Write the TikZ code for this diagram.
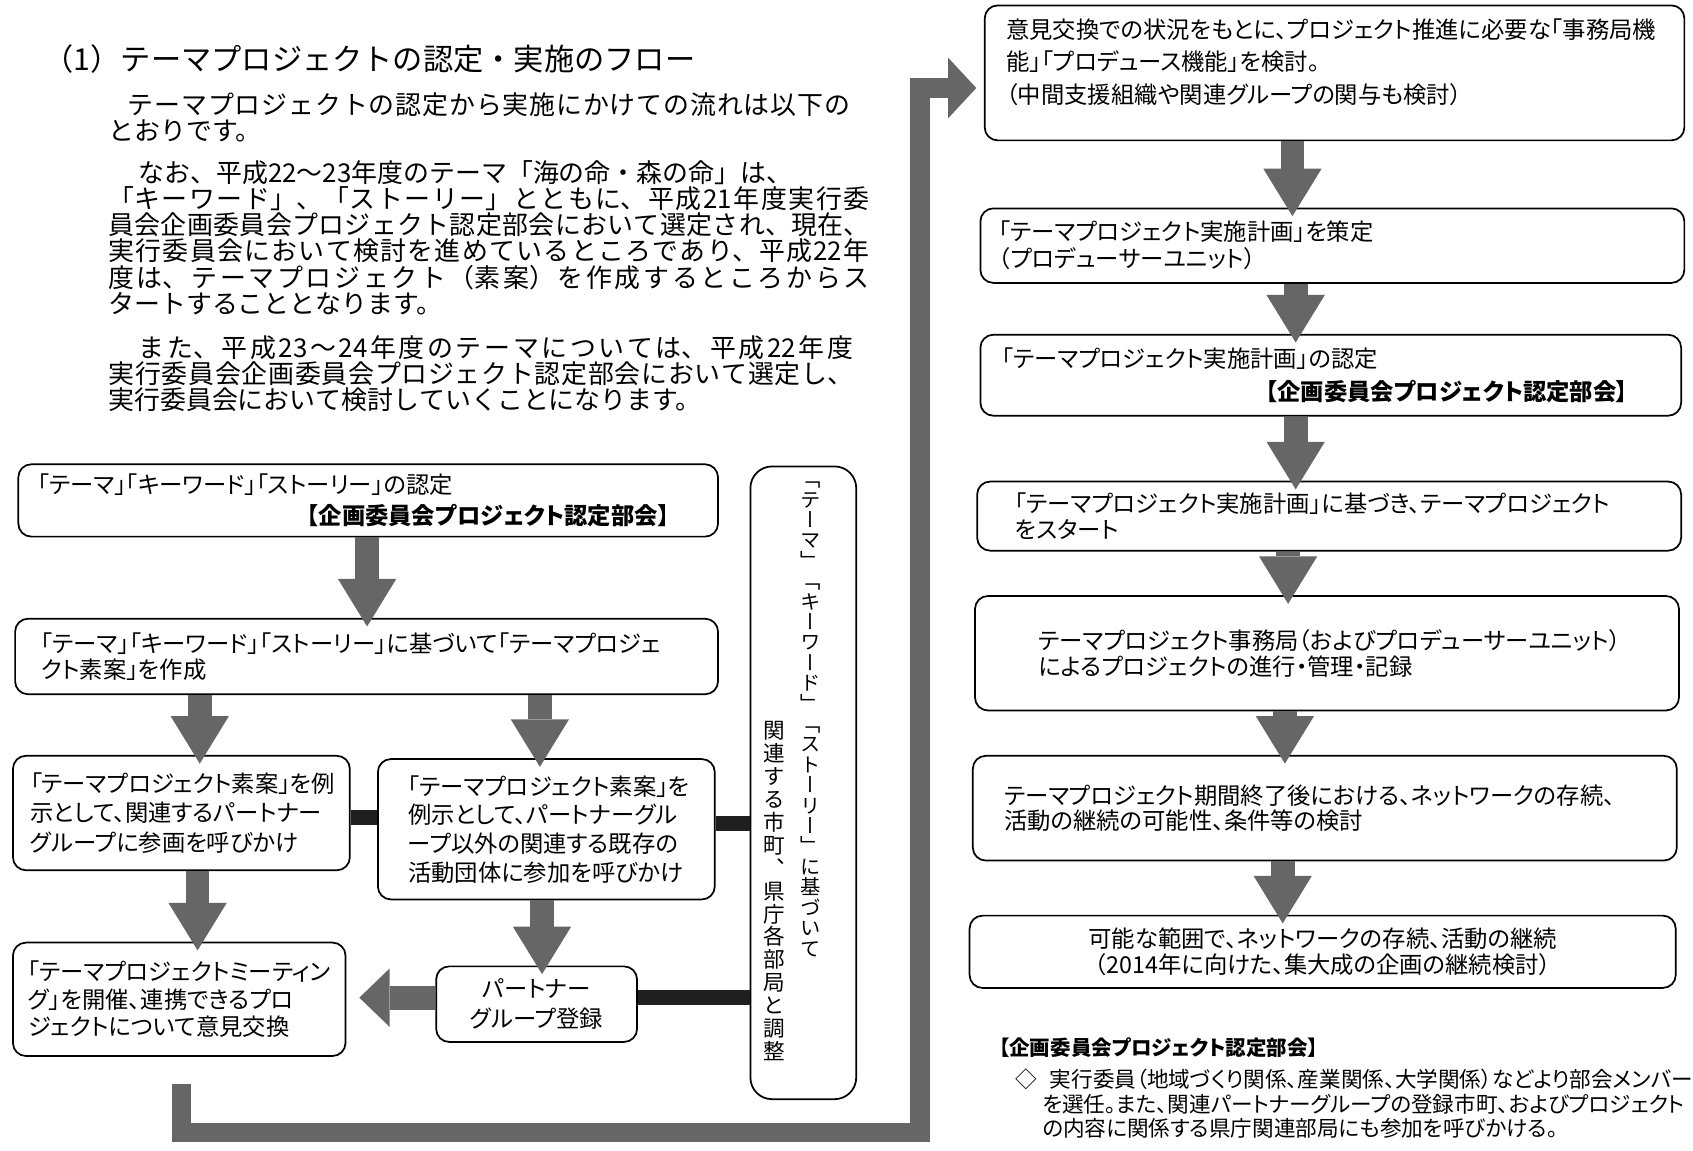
\documentclass[tikz,border=0pt]{standalone}
\usepackage{fontspec}
\setmainfont{Noto Sans CJK JP}
\newfontfamily\pfont{Noto Sans CJK JP}[RawFeature=+palt]
\newfontfamily\vfont{Noto Sans CJK JP}[RawFeature=+vert]
\usetikzlibrary{arrows.meta,calc}
\newcommand\nobrk{\XeTeXlinebreaklocale ""\XeTeXlinebreakskip=0pt\relax}
\newcommand\jabrk{\XeTeXlinebreaklocale "ja"\XeTeXlinebreakskip=0pt plus 3pt\relax}
\begin{document}
\begin{tikzpicture}[x=0.5pt,y=-0.5pt,
  box/.style={draw=black, line width=0.8pt, rounded corners=6pt, fill=white, inner ysep=0pt, align=left},
  lsk/.style={font=\nobrk\pfont\fontsize{10.8pt}{#1}\selectfont},
  fat/.style={draw=black!60, line width=11pt, -{Triangle[length=22pt,width=27pt,line width=0pt]}, shorten >=-4pt},
  fatleft/.style={draw=black!60, line width=11pt, -{Triangle[length=14pt,width=27pt,line width=0pt]}, shorten >=6pt},
  bigarrow/.style={draw=black!60, line width=9pt, line join=miter, -{Triangle[length=13pt,width=28pt,line width=0pt]}},
  bar/.style={draw=black!88, line width=7pt},
  para/.style={anchor=north west, inner sep=0pt, align=justify, font=\jabrk\fontsize{12pt}{12.15pt}\selectfont},
  note/.style={anchor=west, inner sep=0pt, font=\nobrk\pfont\fontsize{10pt}{11pt}\selectfont},
  vt/.style={inner sep=0pt, align=center, anchor=north, font=\nobrk\vfont\fontsize{9.4pt}{9.45pt}\selectfont},
]
\fill[white] (0,0) rectangle (1568,1066);
\useasboundingbox (0,0) rectangle (1568,1066);

% ---- title and paragraphs
\node[anchor=west, inner sep=0pt, font=\nobrk\fontsize{14pt}{15pt}\selectfont] (T) at (40,55) {（1）テーマプロジェクトの認定・実施のフロー};
\node[para, text width=343.5pt] (P1) at (100,85) {\hspace*{9pt}テーマプロジェクトの認定から実施にかけての流れは以下の\linebreak とおりです。};
\node[para, text width=352.5pt] (P2) at (100,148) {\hspace*{14pt}なお、平成22～23年度のテーマ「海の命・森の命」は、\\「キーワード」、「ストーリー」とともに、平成21年度実行委\linebreak 員会企画委員会プロジェクト認定部会において選定され、現在、\linebreak 実行委員会において検討を進めているところであり、平成22年\linebreak 度は、テーマプロジェクト（素案）を作成するところからス\linebreak タートすることとなります。};
\node[para, text width=345pt] (P3) at (100,310) {\hspace*{14pt}また、平成23～24年度のテーマについては、平成22年度\linebreak 実行委員会企画委員会プロジェクト認定部会において選定し、\linebreak 実行委員会において検討していくことになります。};
\nobrk

% ---- left flow boxes
\node[box, lsk=14.5pt, minimum width=324pt, minimum height=33.5pt, inner xsep=9pt, text width=306pt] (A) at (341,463.5)
  {「テーマ」「キーワード」「ストーリー」の認定\\\makebox[\linewidth][r]{\bfseries【企画委員会プロジェクト認定部会】\hspace*{13.5pt}}};
\node[box, lsk=12pt, minimum width=325.5pt, minimum height=35pt, inner xsep=12pt, text width=301.5pt] (B) at (339.5,608)
  {「テーマ」「キーワード」「ストーリー」に基づいて「テーマプロジェ\\クト素案」を作成};
\node[box, lsk=13.5pt, minimum width=156pt, minimum height=53pt, inner xsep=8pt, text width=140pt] (C1) at (168,753)
  {「テーマプロジェクト素案」を例\\示として、関連するパートナー\\グループに参画を呼びかけ};
\node[box, lsk=13.3pt, minimum width=156pt, minimum height=65pt, inner xsep=14pt, text width=128pt] (C2) at (506,768)
  {「テーマプロジェクト素案」を\\例示として、パートナーグル\\ープ以外の関連する既存の\\活動団体に参加を呼びかけ};
\node[box, lsk=12.75pt, minimum width=154pt, minimum height=52.5pt, inner xsep=7pt, text width=140pt] (D1) at (166,925.5)
  {「テーマプロジェクトミーティン\\グ」を開催、連携できるプロ\\ジェクトについて意見交換};
\node[box, lsk=14pt, align=center, minimum width=93pt, minimum height=35pt, inner xsep=6pt, text width=81pt] (D2) at (497,930)
  {パートナー\\グループ登録};
\node[box, rounded corners=10pt, minimum width=49pt, minimum height=293pt, inner sep=0pt] (V) at (744,725) {};
\node[vt] (V1) at (751,446) {「\\テ\\ー\\マ\\」\\「\\キ\\ー\\ワ\\ー\\ド\\」\\「\\ス\\ト\\ー\\リ\\ー\\」\\に\\基\\づ\\い\\て};
\node[vt, font=\nobrk\vfont\fontsize{10pt}{10.6pt}\selectfont] (V2) at (717,668) {関\\連\\す\\る\\市\\町\\、\\県\\庁\\各\\部\\局\\と\\調\\整};

% ---- right flow boxes
\node[box, lsk=15pt, minimum width=324pt, minimum height=62.5pt, inner xsep=10pt, text width=304pt] (R1) at (1236,67.5)
  {意見交換での状況をもとに、プロジェクト推進に必要な「事務局機\\能」「プロデュース機能」を検討。\\（中間支援組織や関連グループの関与も検討）\rule[-11pt]{0pt}{0pt}};
\node[box, lsk=12.5pt, minimum width=326pt, minimum height=34.5pt, inner xsep=8.5pt, text width=309pt] (R2) at (1234,227.5)
  {「テーマプロジェクト実施計画」を策定\\（プロデューサーユニット）};
\node[box, lsk=15.5pt, minimum width=324.5pt, minimum height=37.5pt, inner xsep=10pt, text width=304.5pt] (R3) at (1232.5,347.5)
  {「テーマプロジェクト実施計画」の認定\\\makebox[\linewidth][r]{\bfseries【企画委員会プロジェクト認定部会】\hspace*{14.5pt}}};
\node[box, lsk=12pt, minimum width=326pt, minimum height=32pt, inner xsep=17.5pt, text width=291pt] (R4) at (1231,478)
  {「テーマプロジェクト実施計画」に基づき、テーマプロジェクト\\をスタート};
\node[box, lsk=12pt, minimum width=326pt, minimum height=53pt, inner xsep=29.5pt, text width=267pt] (R5) at (1229,605)
  {テーマプロジェクト事務局（およびプロデューサーユニット）\\によるプロジェクトの進行・管理・記録};
\node[box, lsk=12pt, minimum width=326pt, minimum height=48.5pt, inner xsep=14.5pt, text width=297pt] (R6) at (1227,748.5)
  {テーマプロジェクト期間終了後における、ネットワークの存続、\\活動の継続の可能性、条件等の検討};
\node[box, lsk=12pt, align=center, minimum width=327pt, minimum height=33.5pt, inner xsep=13.5pt, text width=300pt] (R7) at (1225,881.5)
  {可能な範囲で、ネットワークの存続、活動の継続\\（2014年に向けた、集大成の企画の継続検討）};

% ---- note
\node[note, font=\nobrk\pfont\bfseries\fontsize{9.5pt}{11pt}\selectfont] (N0) at (925,970) {【企画委員会プロジェクト認定部会】};
\node[note] (N1) at (940,1000) {◇\hspace{0.6em}実行委員（地域づくり関係、産業関係、大学関係）などより部会メンバー};
\node[note] (N2) at (965,1023) {を選任。また、関連パートナーグループの登録市町、およびプロジェクト};
\node[note] (N3) at (965,1045) {の内容に関係する県庁関連部局にも参加を呼びかける。};

% ---- connectors
\draw[bar] ([yshift=-2pt]C1.east) -- ([yshift=-2pt]C1.east -| C2.west);
\draw[bar] ([yshift=2.5pt]C2.east) -- ([yshift=2.5pt]C2.east -| V.west);
\draw[bar] ([yshift=3pt]D2.east) -- ([yshift=3pt]D2.east -| V.west);

\coordinate (xa) at (340,0);
\coordinate (xb1) at (185,0);
\coordinate (xb2) at (500,0);
\coordinate (xc1) at (183,0);
\coordinate (xc2) at (502,0);
\draw[fat] (A.south -| xa) -- (B.north -| xa);
\draw[fat] (B.south -| xb1) -- (C1.north -| xb1);
\draw[fat] (B.south -| xb2) -- (C2.north -| xb2);
\draw[fat] (C1.south -| xc1) -- (D1.north -| xc1);
\draw[fat] (C2.south -| xc2) -- (D2.north -| xc2);
\draw[fatleft] ([yshift=3pt]D2.west) -- ([yshift=3pt]D2.west -| D1.east);

\coordinate (xr1) at (1197,0);
\coordinate (xr2) at (1200,0);
\coordinate (xr3) at (1200,0);
\coordinate (xr4) at (1193,0);
\coordinate (xr5) at (1190,0);
\coordinate (xr6) at (1188,0);
\draw[fat] (R1.south -| xr1) -- (R2.north -| xr1);
\draw[fat] (R2.south -| xr2) -- (R3.north -| xr2);
\draw[fat] (R3.south -| xr3) -- (R4.north -| xr3);
\draw[fat] (R4.south -| xr4) -- (R5.north -| xr4);
\draw[fat] (R5.south -| xr5) -- (R6.north -| xr5);
\draw[fat] (R6.south -| xr6) -- (R7.north -| xr6);

\coordinate (Lstart) at ($(D1.south)+(2,25)$);
\coordinate (Lbend) at (852,1049);
\draw[bigarrow, shorten >=3.5pt] (Lstart) |- (Lbend) |- ([yshift=-7pt]R1.west);
\end{tikzpicture}
\end{document}
